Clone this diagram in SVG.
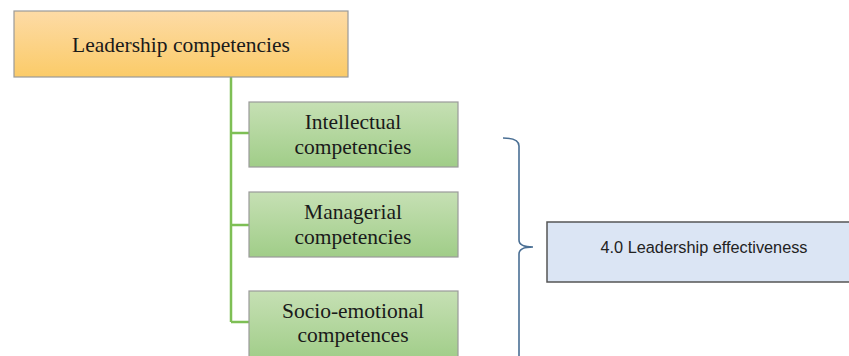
<svg xmlns="http://www.w3.org/2000/svg" width="849" height="356" viewBox="0 0 849 356">
<defs>
<linearGradient id="gOrange" x1="0" y1="0" x2="0" y2="1">
<stop offset="0" stop-color="#fddba6"/>
<stop offset="1" stop-color="#fbcb68"/>
</linearGradient>
<linearGradient id="gGreen" x1="0" y1="0" x2="0" y2="1">
<stop offset="0" stop-color="#c6e0b4"/>
<stop offset="1" stop-color="#a0cd88"/>
</linearGradient>
</defs>
<style>
.serif{font-family:"Liberation Serif","DejaVu Serif",serif;fill:#1a1a1a;text-anchor:middle;font-size:21.5px}
.sans{font-family:"Liberation Sans","Open Sans",sans-serif;fill:#222;text-anchor:middle}
.box{stroke:#9a9a9a;stroke-width:1.2}
.conn{fill:none;stroke:#7ebf55;stroke-width:2.5}
</style>
<rect width="849" height="356" fill="#ffffff"/>
<g id="connectors">
<path class="conn" d="M231 77 V322 M231 133 H249 M231 225 H249 M231 322 H249"/>
<path d="M503 138 Q519 138 519 146 V240 Q519 247 533 247 Q519 247 519 254 V358" fill="none" stroke="#4a6f94" stroke-width="1.6"/>
</g>
<g id="leadership">
<rect class="box" x="14" y="11" width="334" height="66" fill="url(#gOrange)"/>
<text class="serif" x="181" y="52" font-size="22">Leadership competencies</text>
</g>
<g id="intellectual">
<rect class="box" x="249" y="102" width="209" height="65" fill="url(#gGreen)"/>
<text class="serif" x="353" y="129">Intellectual</text>
<text class="serif" x="353" y="154">competencies</text>
</g>
<g id="managerial">
<rect class="box" x="249" y="192" width="209" height="65" fill="url(#gGreen)"/>
<text class="serif" x="353" y="219">Managerial</text>
<text class="serif" x="353" y="244">competencies</text>
</g>
<g id="socio">
<rect class="box" x="249" y="291" width="209" height="70" fill="url(#gGreen)"/>
<text class="serif" x="353" y="318">Socio-emotional</text>
<text class="serif" x="353" y="342">competences</text>
</g>
<g id="effectiveness">
<rect x="547" y="222" width="305" height="60" fill="#dbe5f4" stroke="#555555" stroke-width="1.5"/>
<text class="sans" x="704" y="253" font-size="16.3">4.0 Leadership effectiveness</text>
</g>
</svg>
